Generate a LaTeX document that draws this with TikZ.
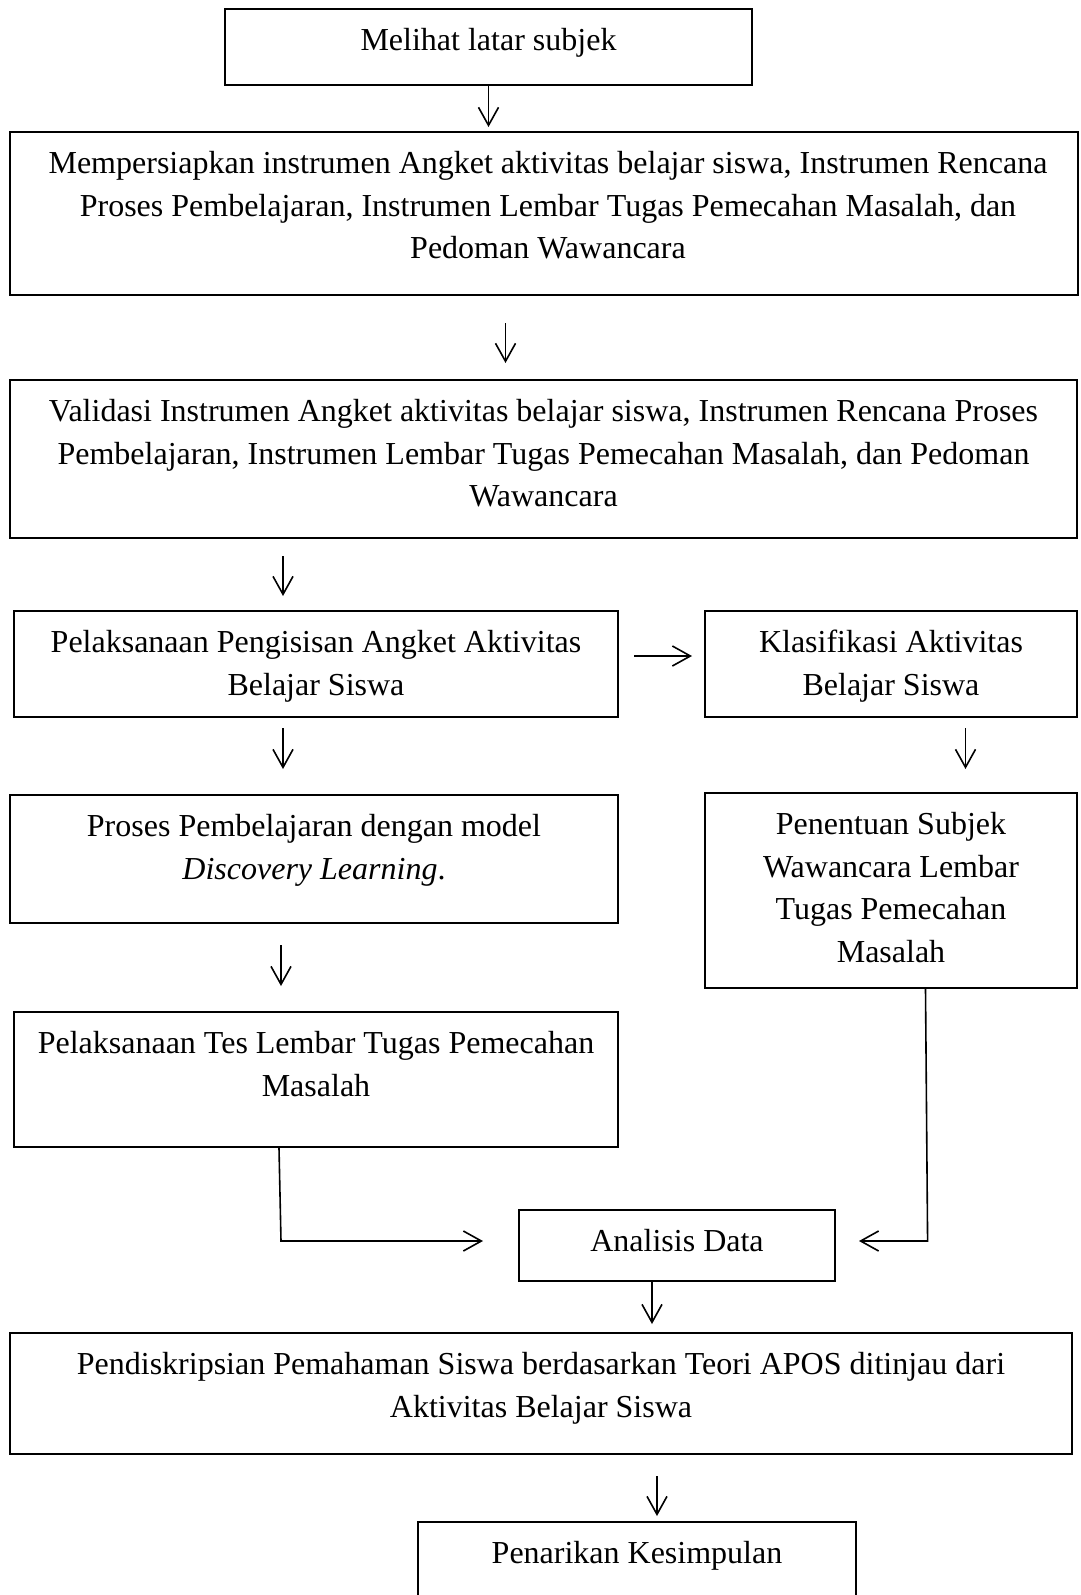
\documentclass[tikz,border=0pt]{standalone}
\usepackage{fontspec}
\setmainfont{Liberation Serif}
\usetikzlibrary{arrows.meta,calc,fit}
\tikzset{
  box/.style={draw, line width=1.5pt, inner sep=0pt, rectangle},
  txt/.style={font=\fontsize{24}{31.9}\selectfont, align=center, inner sep=0pt, anchor=north},
  arr/.style={line width=1.2pt, -{Straight Barb[length=13.5pt,width=15pt,line width=1.2pt]}},
}
\begin{document}
\begin{tikzpicture}[x=0.75pt,y=-0.75pt]
\clip (0,0) rectangle (1081,1595);
\fill[white] (0,0) rectangle (1081,1595);
% boxes
\node[box, fit={(225,9) (752,85)}] (b1) {};
\node[box, fit={(10,132) (1078,295)}] (b2) {};
\node[box, fit={(10,380) (1077,538)}] (b3) {};
\node[box, fit={(14,611) (618,717)}] (b4) {};
\node[box, fit={(705,611) (1077,717)}] (b5) {};
\node[box, fit={(10,795) (618,923)}] (b6) {};
\node[box, fit={(705,793) (1077,988)}] (b7) {};
\node[box, fit={(14,1012) (618,1147)}] (b8) {};
\node[box, fit={(519,1210) (835,1281)}] (ba) {};
\node[box, fit={(10,1333) (1072,1454)}] (b9) {};
\node[box, fit={(418,1522) (856,1630)}] (b10) {};
% texts
\node[txt] (t1) at ($(b1.north)+(0,20)$) {Melihat latar subjek};
\node[txt] (t2) at ($(b2.north)+(4,20)$) {Mempersiapkan instrumen Angket aktivitas belajar siswa, Instrumen Rencana\\Proses Pembelajaran, Instrumen Lembar Tugas Pemecahan Masalah, dan\\Pedoman Wawancara};
\node[txt] (t3) at ($(b3.north)+(0,20)$) {Validasi Instrumen Angket aktivitas belajar siswa, Instrumen Rencana Proses\\Pembelajaran, Instrumen Lembar Tugas Pemecahan Masalah, dan Pedoman\\Wawancara};
\node[txt] (t4) at ($(b4.north)+(0,20)$) {Pelaksanaan Pengisisan Angket Aktivitas\\Belajar Siswa};
\node[txt] (t5) at ($(b5.north)+(0,20)$) {Klasifikasi Aktivitas\\Belajar Siswa};
\node[txt] (t6) at ($(b6.north)+(0,20)$) {Proses Pembelajaran dengan model\\\textit{Discovery Learning}.};
\node[txt] (t7) at ($(b7.north)+(0,20)$) {Penentuan Subjek\\Wawancara Lembar\\Tugas Pemecahan\\Masalah};
\node[txt] (t8) at ($(b8.north)+(0,20)$) {Pelaksanaan Tes Lembar Tugas Pemecahan\\Masalah};
\node[txt] (ta) at ($(ba.north)+(0,20)$) {Analisis Data};
\node[txt] (t9) at ($(b9.north)+(0,20)$) {Pendiskripsian Pemahaman Siswa berdasarkan Teori APOS ditinjau dari\\Aktivitas Belajar Siswa};
\node[txt] (t10) at ($(b10.north)+(0,20)$) {Penarikan Kesimpulan};
% connectors
\draw[arr] (b1.south) -- ++(0,41);
\draw[arr] ($(b2.south)+(-38.5,27)$) -- ++(0,40);
\draw[arr] ($(b3.south)+(-260.5,17)$) -- ++(0,40);
\draw[arr] ($(b4.east)+(15,-8)$) -- ($(b5.west)+(-12,-8)$);
\draw[arr] ($(b4.south)+(-33,10)$) -- ++(0,41);
\draw[arr] ($(b5.south)+(74.5,10)$) -- ++(0,41);
\draw[arr] ($(b6.south)+(-33,21)$) -- ++(0,41);
\coordinate (cl) at (281,1241);
\coordinate (cr) at (927.6,1241);
\draw[arr] ($(b8.south)+(-37,0)$) -- (cl) -- ($(ba.west)+(-35,-4.5)$);
\draw[arr] ($(b7.south)+(34.5,0)$) -- (cr) -- ($(ba.east)+(23,-4.5)$);
\draw[arr] ($(ba.south)+(-25,0)$) -- ++(0,42);
\draw[arr] ($(b9.south)+(116,21)$) -- ++(0,40);
\end{tikzpicture}
\end{document}
